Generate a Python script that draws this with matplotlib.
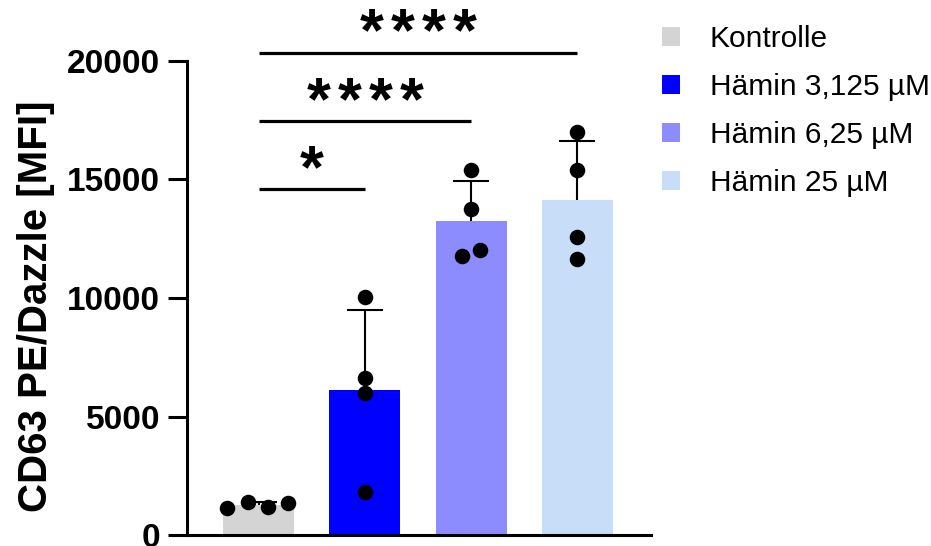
import numpy as np
import matplotlib
matplotlib.use('Agg')
import matplotlib.pyplot as plt
from matplotlib.patches import Patch

# ---------- DATEN ----------

groups = ['Kontrolle', 'Hämin 3,125 µM', 'Hämin 6,25 µM', 'Hämin 25 µM']
kontrolle = [1127, 1405, 1181, 1350]
haemin_3125 = [10030, 6612, 6005, 1828]
haemin_625 = [15403, 13757, 11774, 12027]
haemin_25 = [16994, 15403, 12589, 11634]
replicates = [kontrolle, haemin_3125, haemin_625, haemin_25]

# horizontale Streuung der Einzelpunkte (in Balkenbreiten-Einheiten)
jitter = [[-0.296, -0.099, 0.089, 0.278],
          [0, 0, 0, 0],
          [0, 0, -0.089, 0.085],
          [0, 0, 0, 0]]

colors = ['#D4D4D4', '#0000FF', '#8C8CFF', '#C8DEF8']

# Signifikanz: (Gruppe a, Gruppe b, Sterne)
comparisons = [(0, 1, '*'), (0, 2, '****'), (0, 3, '****')]
sig_heights = [14588, 17471, 20353]

y_ticks = [0, 5000, 10000, 15000, 20000]

# ---------- PLOT ----------

plt.rcParams['font.family'] = ['Liberation Sans', 'DejaVu Sans']

fig = plt.figure(figsize=(9.31, 5.46), dpi=100)
ax = fig.add_axes([0.2009, 0.0201, 0.4981, 0.8682])

x = np.arange(len(groups))
means = [np.mean(v) for v in replicates]
sds = [np.std(v, ddof=1) for v in replicates]

ax.bar(x, means, width=0.67, color=colors, zorder=1)
eb = ax.errorbar(x, means, yerr=[np.zeros(len(sds)), sds], fmt='none', ecolor='black',
                 elinewidth=1.5, capsize=13, capthick=1.5, zorder=2)
# nur die obere Kappe zeigen (Prism-Stil)
eb[1][0].set_visible(False)

for i, vals in enumerate(replicates):
    ax.scatter(x[i] + np.array(jitter[i]), vals, s=125, color='black', zorder=3,
               linewidths=0)

# Signifikanzlinien
for (a, b, stars), h in zip(comparisons, sig_heights):
    ax.plot([x[a], x[b]], [h, h], color='black', lw=2.3, clip_on=False,
            solid_capstyle='butt')
    mid = (x[a] + x[b]) / 2
    n = len(stars)
    for k in range(n):
        dx = (k - (n - 1) / 2) * 22.3
        ax.annotate('*', xy=(mid, h), xytext=(dx, 1.5), textcoords='offset points',
                    ha='center', va='baseline', fontsize=44, fontweight='bold',
                    annotation_clip=False)

ax.set_xlim(-0.673, 3.69)
ax.set_ylim(0, 20000)
ax.set_yticks(y_ticks)
ax.set_yticklabels([str(t) for t in y_ticks], fontsize=24, fontweight='bold')
ax.set_xticks([])

for side in ['top', 'right']:
    ax.spines[side].set_visible(False)
for side in ['left', 'bottom']:
    ax.spines[side].set_linewidth(2.2)
ax.tick_params(axis='y', length=14, width=2.2, pad=5.5)

ax.set_ylabel('CD63 PE/Dazzle [MFI]', fontsize=29, fontweight='bold')
ax.yaxis.set_label_coords(-0.285, 0.482)

handles = [Patch(facecolor=c, edgecolor='none') for c in colors]
fig.legend(handles, groups, loc='upper left', bbox_to_anchor=(0.711, 0.955),
           frameon=False, fontsize=21.5, handlelength=0.6, handleheight=0.6,
           handletextpad=1.0, labelspacing=0.68, borderpad=0, borderaxespad=0)

plt.savefig('out.png', dpi=100)
